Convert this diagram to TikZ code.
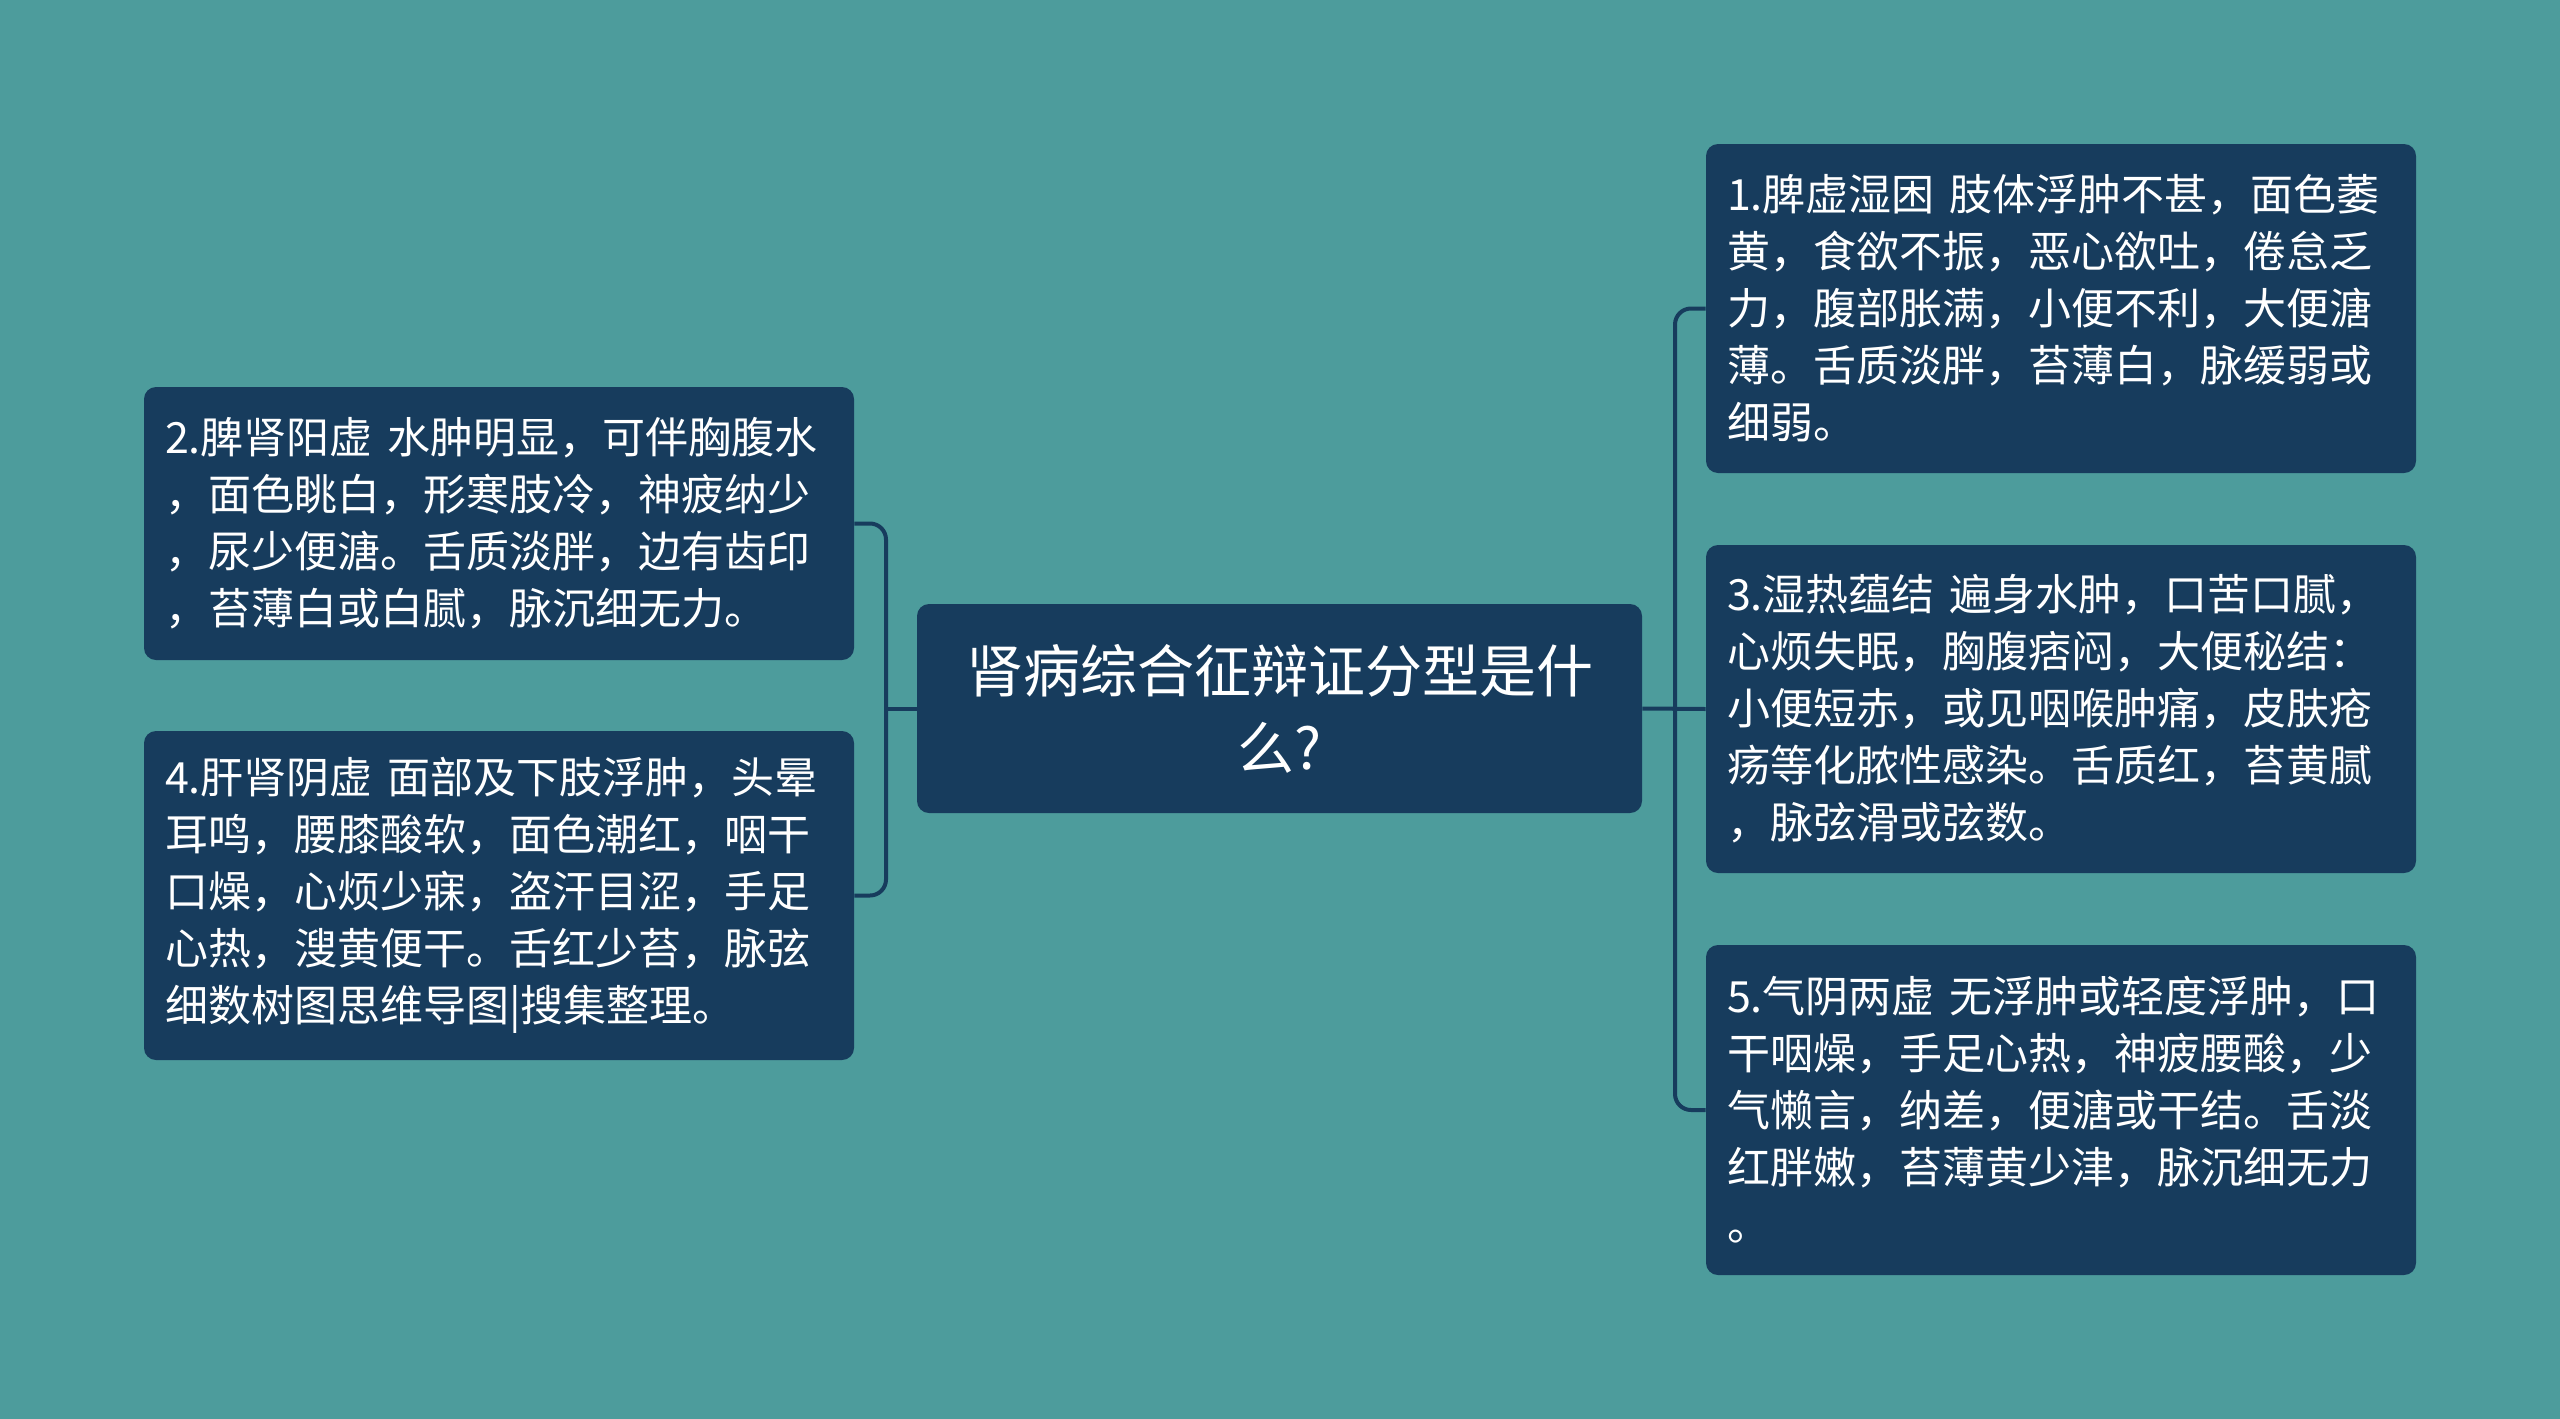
\documentclass[tikz,border=0pt]{standalone}
\usepackage{fontspec}
\setmainfont{Noto Sans CJK SC}
\definecolor{bgc}{HTML}{4D9C9C}
\definecolor{boxc}{HTML}{173C5D}
\begin{document}
\begin{tikzpicture}[x=0.5pt,y=-0.5pt,
  topic/.style={draw=none,fill=boxc,rounded corners=6pt,text=white,
    minimum width=355pt,minimum height=#1,inner xsep=10.5pt,inner ysep=0pt,
    text width=334pt,align=left,font=\fontsize{21.5pt}{28.5pt}\selectfont},
  central/.style={fill=boxc,rounded corners=6pt,text=white,
    minimum width=362.5pt,minimum height=104.5pt,inner sep=0pt,
    align=center,font=\fontsize{28.5pt}{38.5pt}\selectfont},
  link/.style={draw=boxc,line width=2pt,rounded corners=8pt}]
\fill[bgc] (0,0) rectangle (2560,1419);
\useasboundingbox (0,0) rectangle (2560,1419);

\node[central] (c) at (1279.5,708.5) {肾病综合征辩证分型是什\\么?};

\node[topic=164.5pt] (n1) at (2061,308.5) {1.脾虚湿困 肢体浮肿不甚，面色萎\\黄，食欲不振，恶心欲吐，倦怠乏\\力，腹部胀满，小便不利，大便溏\\薄。舌质淡胖，苔薄白，脉缓弱或\\细弱。};
\node[topic=164pt] (n3) at (2061,709) {3.湿热蕴结 遍身水肿，口苦口腻，\\心烦失眠，胸腹痞闷，大便秘结：\\小便短赤，或见咽喉肿痛，皮肤疮\\疡等化脓性感染。舌质红，苔黄腻\\，脉弦滑或弦数。};
\node[topic=165pt] (n5) at (2061,1110) {5.气阴两虚 无浮肿或轻度浮肿，口\\干咽燥，手足心热，神疲腰酸，少\\气懒言，纳差，便溏或干结。舌淡\\红胖嫩，苔薄黄少津，脉沉细无力\\。};
\node[topic=136.5pt] (n2) at (499,523.5) {2.脾肾阳虚 水肿明显，可伴胸腹水\\，面色眺白，形寒肢冷，神疲纳少\\，尿少便溏。舌质淡胖，边有齿印\\，苔薄白或白腻，脉沉细无力。};
\node[topic=164.5pt] (n4) at (499,895.5) {4.肝肾阴虚 面部及下肢浮肿，头晕\\耳鸣，腰膝酸软，面色潮红，咽干\\口燥，心烦少寐，盗汗目涩，手足\\心热，溲黄便干。舌红少苔，脉弦\\细数树图思维导图|搜集整理。};

\coordinate (rx) at (1675,708.5);
\coordinate (lx) at (886,708.5);
\draw[link] (c.east) -- (n3.west);
\draw[link] (n1.west) -- (n1.west -| rx) -- (n5.west -| rx) -- (n5.west);
\draw[link] (c.west) -- (lx);
\draw[link] (n2.east) -- (n2.east -| lx) -- (n4.east -| lx) -- (n4.east);
\end{tikzpicture}
\end{document}
